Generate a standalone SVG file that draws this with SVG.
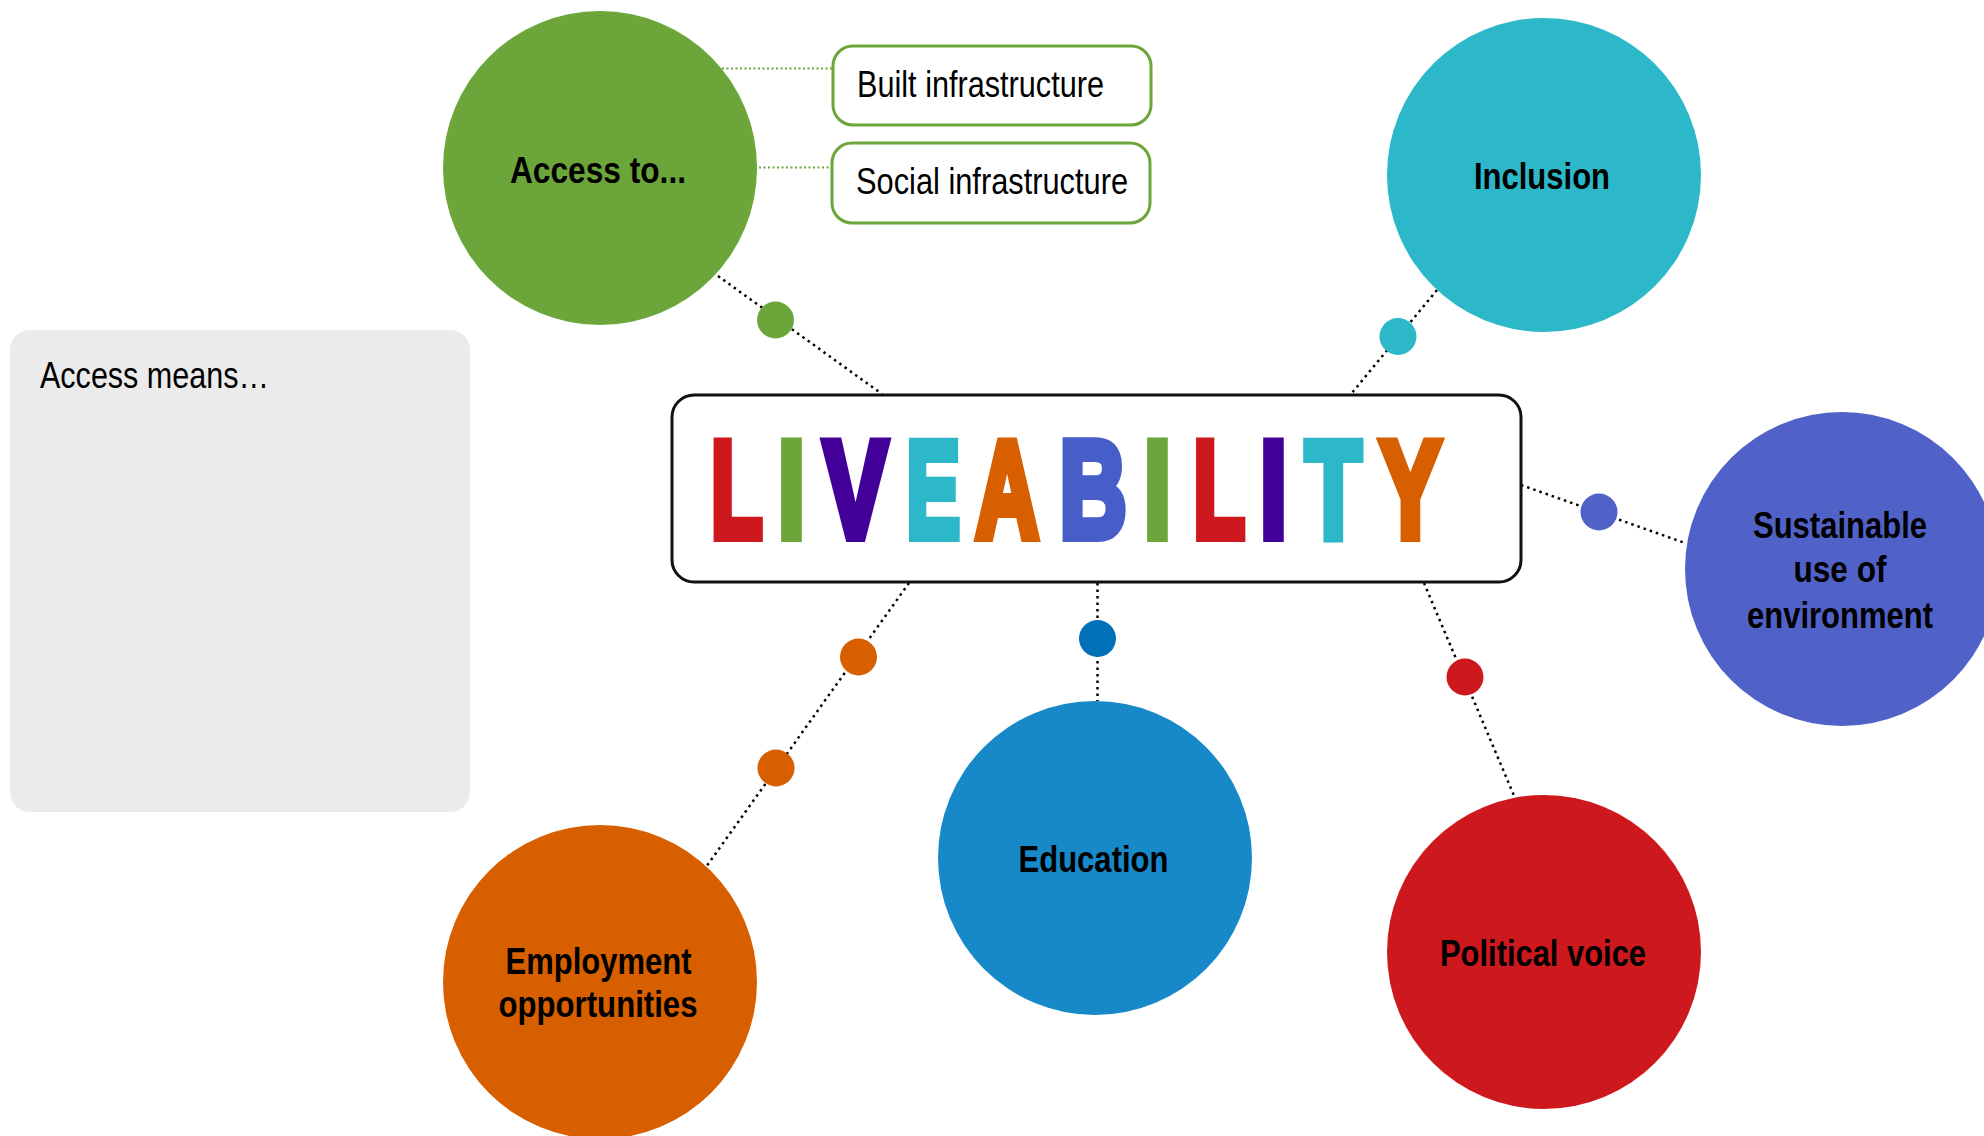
<svg xmlns="http://www.w3.org/2000/svg" width="1984" height="1136" viewBox="0 0 1984 1136">
<defs>
<style>
.lbl{font-family:"Liberation Sans",Arial,sans-serif;font-size:37px;fill:#000}
.b{font-weight:bold}
.mid{text-anchor:middle}
.dot{stroke:#000;stroke-width:2.5;stroke-dasharray:2.5 4;fill:none}
.gdot{stroke:#6ca53a;stroke-width:2;stroke-dasharray:2 2.5;fill:none}
.big{font-family:"Liberation Sans",Arial,sans-serif;font-size:138px;font-weight:bold;text-anchor:middle;stroke-width:10;stroke-linejoin:miter}
</style>
</defs>
<rect width="1984" height="1136" fill="#fff"/>

<g id="connectors">
<line class="gdot" x1="722" y1="68.5" x2="833" y2="68.5"/>
<line class="gdot" x1="759" y1="167.5" x2="832" y2="167.5"/>
<line class="dot" x1="718" y1="276" x2="882" y2="394"/>
<line class="dot" x1="1437" y1="290" x2="1351" y2="394"/>
<line class="dot" x1="1521" y1="485" x2="1685" y2="543"/>
<line class="dot" x1="1424" y1="583" x2="1515" y2="798"/>
<line class="dot" x1="1097.5" y1="583" x2="1097.5" y2="701"/>
<line class="dot" x1="909" y1="583" x2="706" y2="867"/>
<circle cx="775.5" cy="320" r="18.5" fill="#6ca53a"/>
<circle cx="1398" cy="336.5" r="18.5" fill="#2cb8c9"/>
<circle cx="1599" cy="512" r="18.5" fill="#5062c7"/>
<circle cx="1465" cy="677" r="18.5" fill="#cd181e"/>
<circle cx="1097.5" cy="638.5" r="18.5" fill="#0070b8"/>
<circle cx="858.5" cy="657" r="18.5" fill="#d75f00"/>
<circle cx="776" cy="768" r="18.5" fill="#d75f00"/>
</g>

<g id="access-means">
<rect x="10" y="330" width="460" height="482" rx="20" fill="#ebebeb"/>
<text class="lbl" x="40" y="388" textLength="229" lengthAdjust="spacingAndGlyphs">Access means…</text>
</g>

<g id="access-to">
<circle cx="600" cy="168" r="157" fill="#6ca53a"/>
<text class="lbl b mid" x="598" y="183" textLength="176" lengthAdjust="spacingAndGlyphs">Access to...</text>
</g>

<g id="built-infrastructure">
<rect x="833" y="46" width="318" height="79" rx="20" fill="#fff" stroke="#6ca53a" stroke-width="3"/>
<text class="lbl" x="857" y="97" textLength="247" lengthAdjust="spacingAndGlyphs">Built infrastructure</text>
</g>

<g id="social-infrastructure">
<rect x="832" y="143" width="318" height="80" rx="20" fill="#fff" stroke="#6ca53a" stroke-width="3"/>
<text class="lbl" x="856" y="194" textLength="272" lengthAdjust="spacingAndGlyphs">Social infrastructure</text>
</g>

<g id="inclusion">
<circle cx="1544" cy="175" r="157" fill="#2cb8c9"/>
<text class="lbl b mid" x="1542" y="189" textLength="136" lengthAdjust="spacingAndGlyphs">Inclusion</text>
</g>

<g id="sustainable">
<circle cx="1842" cy="569" r="157" fill="#5062c7"/>
<text class="lbl b mid" x="1840" y="538" textLength="174" lengthAdjust="spacingAndGlyphs">Sustainable</text>
<text class="lbl b mid" x="1840" y="582" textLength="93" lengthAdjust="spacingAndGlyphs">use of</text>
<text class="lbl b mid" x="1840" y="628" textLength="186" lengthAdjust="spacingAndGlyphs">environment</text>
</g>

<g id="education">
<circle cx="1095" cy="858" r="157" fill="#1789c9"/>
<text class="lbl b mid" x="1093.5" y="872" textLength="150" lengthAdjust="spacingAndGlyphs">Education</text>
</g>

<g id="political-voice">
<circle cx="1544" cy="952" r="157" fill="#cd181e"/>
<text class="lbl b mid" x="1543" y="966" textLength="206" lengthAdjust="spacingAndGlyphs">Political voice</text>
</g>

<g id="employment">
<circle cx="600" cy="982" r="157" fill="#d75f00"/>
<text class="lbl b mid" x="598.5" y="974" textLength="186" lengthAdjust="spacingAndGlyphs">Employment</text>
<text class="lbl b mid" x="598" y="1017" textLength="199" lengthAdjust="spacingAndGlyphs">opportunities</text>
</g>

<g id="liveability">
<rect x="672" y="395" width="849" height="187" rx="22" fill="#fff" stroke="#111" stroke-width="3"/>
<text class="big" transform="translate(736.6 537) scale(0.61 1)" fill="#cd181e" stroke="#cd181e">L</text>
<text class="big" transform="translate(791.6 537) scale(0.69 1)" fill="#6ca53a" stroke="#6ca53a">I</text>
<text class="big" transform="translate(855.6 537) scale(0.69 1)" fill="#430098" stroke="#430098">V</text>
<text class="big" transform="translate(933.3 537) scale(0.58 1)" fill="#2cb8c9" stroke="#2cb8c9">E</text>
<text class="big" transform="translate(1007.1 537) scale(0.63 1)" fill="#d75f00" stroke="#d75f00">A</text>
<text class="big" transform="translate(1093.2 537) scale(0.67 1)" fill="#475dc7" stroke="#475dc7">B</text>
<text class="big" transform="translate(1157.5 537) scale(0.69 1)" fill="#6ca53a" stroke="#6ca53a">I</text>
<text class="big" transform="translate(1219.2 537) scale(0.61 1)" fill="#cd181e" stroke="#cd181e">L</text>
<text class="big" transform="translate(1273.4 537) scale(0.69 1)" fill="#430098" stroke="#430098">I</text>
<text class="big" transform="translate(1333.4 537) scale(0.66 1)" fill="#2cb8c9" stroke="#2cb8c9">T</text>
<text class="big" transform="translate(1410.3 537) scale(0.66 1)" fill="#d75f00" stroke="#d75f00">Y</text>
</g>
</svg>
